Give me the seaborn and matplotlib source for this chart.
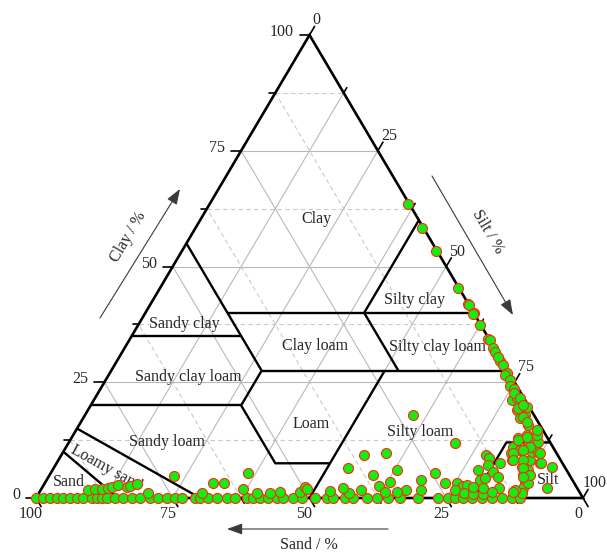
import numpy as np
import pandas as pd
import matplotlib
matplotlib.use("Agg")
import matplotlib.pyplot as plt
import seaborn as sns

# ---------------------------------------------------------------------------
# Sample compositions in percent. Each group lists sand and clay; silt is the
# remainder (100 - sand - clay).
# ---------------------------------------------------------------------------
# samples lying on the sand-silt edge (no clay)
edge_sand = [100, 98.7, 97.4, 96.2, 95.1, 93.8, 92.5, 91.4, 89.8, 88.8, 87.9,
             87.0, 85.6, 84.1, 82.5, 81.0, 79.2, 77.7, 76.1, 74.6, 73.3, 70.9,
             70.0, 68.6, 66.9, 65.1, 63.6, 61.4, 60.3, 59.1, 57.6, 55.9, 54.8,
             53.0, 51.4, 49.0, 46.8, 45.7, 43.5, 42.1, 39.5, 37.7, 35.7, 33.5,
             30.2, 26.5, 24.7, 23.4, 21.9, 20.3, 18.5, 16.6, 14.8, 13.0, 11.5]
edge_clay = [0.0] * len(edge_sand)

# sandy samples with a little clay
sandy_sand = [89.6, 88.2, 86.9, 85.7, 84.9, 83.6, 82.2, 81.5, 80.0, 78.9, 72.4,
              69.1, 66.0, 64.0, 61.2, 58.5, 59.0, 56.7, 54.8, 51.1, 49.6]
sandy_clay = [1.7, 1.9, 1.9, 2.2, 2.4, 2.8, 2.4, 2.6, 3.0, 1.1, 4.8,
              1.1, 3.2, 3.2, 1.9, 5.4, 1.1, 1.1, 1.3, 1.3, 2.4]

# silty loam samples
loam_sand = [22.1, 17.5, 35.4, 31.2, 39.7, 35.9, 31.0, 33.6, 36.0, 24.4, 27.7,
             28.8, 31.5, 33.4, 35.6, 39.8, 42.2, 42.8, 45.5, 49.5, 23.6, 21.4,
             20.6]
loam_clay = [17.9, 11.9, 9.3, 9.7, 6.5, 5.0, 6.0, 3.5, 2.6, 5.4, 3.9,
             1.7, 1.7, 1.3, 1.3, 1.7, 1.1, 2.2, 1.5, 1.9, 3.2, 3.2,
             2.6]

# silt-rich samples
silt_sand = [19.8, 22.5, 21.2, 19.7, 17.9, 16.2, 16.9, 15.8, 13.0, 12.9, 13.8,
             13.7, 11.4, 13.3, 14.3, 16.0, 17.2, 18.9,
             8.4, 8.9, 7.3, 5.4, 6.3, 7.8, 8.5, 8.9, 9.9, 10.6, 11.6,
             4.7, 3.9, 5.6, 4.4, 3.3, 2.2, 1.6, 3.3, 7.1, 8.5, 3.4, 4.1, 2.3,
             5.5, 2.6, 2.9, 1.6, 2.2, 1.5, 2.4, 0.4, 1.1,
             5.6, 3.6, 4.2, 5.8, 8.0, 3.0, 8.7, 6.9, 3.9, 7.8, 7.2, 8.7, 12.2,
             2.3, 2.0, 2.2, 1.3]
silt_clay = [2.8, 1.7, 1.1, 0.9, 0.9, 6.0, 3.9, 4.3, 9.3, 8.6, 7.1,
             5.6, 7.6, 4.5, 2.2, 1.3, 2.2, 2.4,
             9.7, 8.2, 11.0, 13.0, 10.4, 6.7, 5.0, 3.5, 2.2, 1.1, 1.7,
             11.0, 11.9, 8.2, 9.9, 11.0, 12.1, 13.6, 9.9, 6.0, 3.2, 13.6, 7.6,
             6.7, 2.2, 19.0, 17.3, 17.9, 15.8, 20.7, 21.2, 19.7, 14.7,
             12.5, 13.2, 11.0, 10.4, 9.7, 9.7, 8.2, 8.2, 7.6, 6.5, 5.0, 4.5,
             1.3, 17.5, 16.4, 19.4, 21.6]

# samples on the silt-clay edge (almost no sand)
clayey_sand = [0.3, 0.3, 0.2, 0.1, 0.1, 0.0, 0.0, 0.3, 0.1, 0.2, 0.0, 0.3,
               0.3, 0.5, 0.2, 0.2, 0.4, 0.9, 0.6, 1.2, 0.8, 1.3, 0.7, 1.0]
clayey_clay = [63.5, 58.3, 53.4, 45.4, 41.9, 41.7, 40.0, 39.7, 37.4, 34.3, 34.1,
               32.4, 31.5, 29.5, 30.5, 28.7, 27.0, 26.6, 25.5, 24.2, 23.5, 22.7,
               21.6, 20.1]

sand = np.array(edge_sand + sandy_sand + loam_sand + silt_sand + clayey_sand)
clay = np.array(edge_clay + sandy_clay + loam_clay + silt_clay + clayey_clay)
silt = 100 - sand - clay

# USDA texture-class boundaries as (sand, clay) polylines
class_lines = [
    [(45, 55), (45, 27.5)],
    [(65, 35), (45, 35)],
    [(45, 40), (0, 40)],
    [(20, 40), (0, 60)],
    [(20, 40), (20, 27.5)],
    [(45, 27.5), (0, 27.5)],
    [(45, 27.5), (52.5, 20)],
    [(80, 20), (52.5, 20)],
    [(52.5, 20), (52.5, 7.5), (42.5, 7.5)],
    [(50, 0), (22.5, 27.5)],
    [(85, 15), (70, 0)],
    [(90, 10), (85, 0)],
    [(20, 0), (8, 12), (0, 12)],
]
class_names = ["Clay", "Silty clay", "Sandy clay", "Clay loam", "Silty clay loam",
               "Sandy clay loam", "Loam", "Silty loam", "Sandy loam", "Sand", "Silt",
               "Loamy sand"]
ticks = np.arange(0, 100.1, 12.5)


def tern(s, c):
    """Cartesian position of a (sand, clay) composition; sand 100 at left."""
    s = np.asarray(s, dtype=float)
    c = np.asarray(c, dtype=float)
    return 100 - s - c / 2, c


# ---------------------------------------------------------------------------
sns.set_style("white")
plt.rcParams["font.family"] = ["Liberation Serif", "DejaVu Serif"]
FS = 11.5

W, H = 607, 553
fig = plt.figure(figsize=(W / 100, H / 100), dpi=100)
ax = fig.add_axes([0, 0, 1, 1])
KX, KY = 5.47, 4.63            # pixels per percent along x and y
X0, Y0 = 36, 498               # pixel position of the 100 % sand corner
ax.set_xlim(-X0 / KX, (W - X0) / KX)
ax.set_ylim(-(H - Y0) / KY, Y0 / KY)
ax.axis("off")
PX, PY = 1 / KX, 1 / KY


def at(px, py):
    return (px - X0) * PX, (Y0 - py) * PY


# grid lines
for v in ticks[1:-1]:
    major = v % 25 == 0
    kw_cs = dict(color="#b9b9b9", lw=0.8) if major else dict(color="#c9c9c9", lw=0.8, ls=(0, (4, 3)))
    x, y = tern([100 - v, 0], [v, v])
    ax.plot(x, y, zorder=1, **kw_cs)
    x, y = tern([v, v], [0, 100 - v])
    ax.plot(x, y, zorder=1, **kw_cs)
    x, y = tern([100 - v, 0], [0, 100 - v])
    ax.plot(x, y, zorder=1, color="#b9b9b9", lw=0.8)

# class boundaries
for line in class_lines:
    s_, c_ = zip(*line)
    x, y = tern(s_, c_)
    ax.plot(x, y, color="black", lw=1.7, zorder=3, solid_capstyle="butt")

# triangle frame
x, y = tern([100, 0, 0, 100], [0, 0, 100, 0])
ax.plot(x, y, color="black", lw=1.9, zorder=4, solid_joinstyle="miter")

# ticks and tick labels
ux, uy = 0.5087, 0.861
for v in ticks:
    major = v % 25 == 0
    L = 10 if major else 6
    lab = f"{int(v)}" if major else None
    # clay (left side)
    x0, y0 = tern(100 - v, v)
    ax.plot([x0, x0 - L * PX], [y0, y0], color="black", lw=1.2, zorder=4)
    if lab:
        ax.text(x0 - 16 * PX, y0 + 3 * PY, lab, ha="right", va="center", fontsize=FS)
    # silt (right side)
    x0, y0 = tern(0, 100 - v)
    ax.plot([x0, x0 + L * ux * PX], [y0, y0 + L * uy * PY], color="black", lw=1.2, zorder=4)
    if lab:
        dx = 0 if v == 100 else 3
        ax.text(x0 + dx * PX, y0 + 15 * PY, lab, ha="left", va="center", fontsize=FS)
    # sand (bottom side)
    x0, y0 = tern(v, 0)
    ax.plot([x0, x0 + L * ux * PX], [y0, y0 - L * uy * PY], color="black", lw=1.2, zorder=4)
    if lab:
        ax.text(x0 - 5 * PX, y0 - 16 * PY, lab, ha="center", va="center", fontsize=FS)

# texture class names
name_pos = [(316, 219), (415, 300), (184, 324), (315, 346), (438, 347),
            (188, 377), (311, 424), (420, 432), (167, 442), (69, 482), (548, 480),
            (106, 468)]
for name, (px, py) in zip(class_names, name_pos):
    rot = -29 if name == "Loamy sand" else 0
    ax.text(*at(px, py), name, ha="center", va="center", fontsize=FS,
            rotation=rot, rotation_mode="anchor", zorder=2)

# axis titles with direction arrows
arrow = dict(arrowstyle="-|>,head_length=0.55,head_width=0.2", color="#3a3a3a",
             lw=0.8, mutation_scale=17, shrinkA=0, shrinkB=0)
ax.annotate("", xy=at(180, 189), xytext=at(100, 318), arrowprops=arrow)
ax.annotate("", xy=at(513, 315), xytext=at(432, 176), arrowprops=arrow)
ax.annotate("", xy=at(227, 529), xytext=at(388, 529), arrowprops=arrow)
ax.text(*at(128, 237), "Clay / %", rotation=59.5, ha="center", va="center",
        fontsize=FS, rotation_mode="anchor")
ax.text(*at(488, 232), "Silt / %", rotation=-59.5, ha="center", va="center",
        fontsize=FS, rotation_mode="anchor")
ax.text(*at(309, 545), "Sand / %", ha="center", va="center", fontsize=FS)

# samples
px_, py_ = tern(sand, clay)
df = pd.DataFrame({"x": px_, "y": py_, "sand": sand, "silt": silt, "clay": clay})
sns.scatterplot(data=df, x="x", y="y", ax=ax, s=52, color="#14ec14",
                edgecolor="#ff2a10", linewidth=0.8, zorder=6, legend=False)
ax.set_xlabel("")
ax.set_ylabel("")

fig.savefig("out.png", dpi=100)
